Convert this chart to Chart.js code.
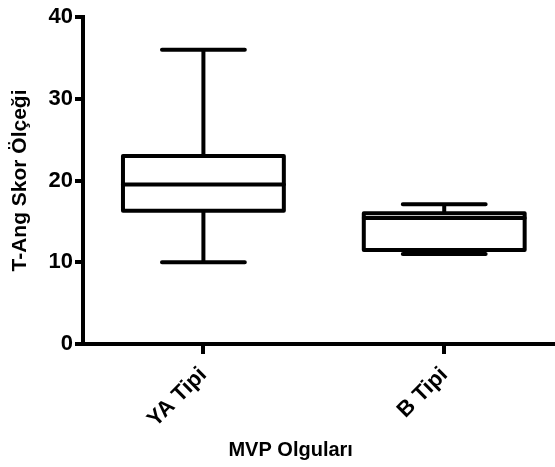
<!DOCTYPE html>
<html>
<head>
<meta charset="utf-8">
<script src="https://cdn.jsdelivr.net/npm/chart.js@4/dist/chart.umd.min.js"></script>
<style>
  html, body { margin: 0; padding: 0; background: #fff; }
  #wrap { width: 555px; height: 467px; }
</style>
</head>
<body>
<div id="wrap"><canvas id="c" width="555" height="467"></canvas></div>
<script>
const categories = ['YA Tipi', 'B Tipi'];
const mins    = [10, 11];
const q1s     = [16.3, 11.5];
const medians = [19.5, 15.4];
const q3s     = [23, 16];
const maxs    = [36, 17.1];
const yTicks  = [0, 10, 20, 30, 40];
const xTitle = 'MVP Olguları';
const yTitle = 'T-Ang Skor Ölçeği';

const FONT = "'Liberation Sans', Arial, sans-serif";

const boxPlugin = {
  id: 'boxPlot',
  afterDatasetsDraw(chart) {
    const ctx = chart.ctx;
    const xs = chart.scales.x, ys = chart.scales.y;
    const boxHalf = 0.334, capHalf = 0.172;
    ctx.save();
    ctx.strokeStyle = '#000';
    ctx.lineWidth = 4;
    ctx.lineCap = 'round';
    ctx.lineJoin = 'round';
    categories.forEach((c, i) => {
      const xv = i + 1;
      const xl = xs.getPixelForValue(xv - boxHalf);
      const xr = xs.getPixelForValue(xv + boxHalf);
      const xc = xs.getPixelForValue(xv);
      const cl = xs.getPixelForValue(xv - capHalf);
      const cr = xs.getPixelForValue(xv + capHalf);
      const yMin = ys.getPixelForValue(mins[i]);
      const yQ1 = ys.getPixelForValue(q1s[i]);
      const yMed = ys.getPixelForValue(medians[i]);
      const yQ3 = ys.getPixelForValue(q3s[i]);
      const yMax = ys.getPixelForValue(maxs[i]);
      ctx.beginPath();
      ctx.moveTo(xc, yQ3); ctx.lineTo(xc, yMax);
      ctx.moveTo(cl, yMax); ctx.lineTo(cr, yMax);
      ctx.moveTo(xc, yQ1); ctx.lineTo(xc, yMin);
      ctx.moveTo(cl, yMin); ctx.lineTo(cr, yMin);
      ctx.stroke();
      ctx.beginPath();
      ctx.rect(xl, yQ3, xr - xl, yQ1 - yQ3);
      ctx.fillStyle = '#fff';
      ctx.fill();
      ctx.stroke();
      ctx.beginPath();
      ctx.moveTo(xl, yMed); ctx.lineTo(xr, yMed);
      ctx.stroke();
    });
    ctx.restore();
  },
  afterDraw(chart) {
    // x-axis title, centred under the (cropped) axis as in the original
    const ctx = chart.ctx;
    const a = chart.chartArea;
    ctx.save();
    ctx.fillStyle = '#000';
    ctx.font = "bold 20px " + FONT;
    ctx.textAlign = 'center';
    ctx.textBaseline = 'middle';
    ctx.fillText(xTitle, a.left + (a.right - a.left) * 0.44, chart.height - 17);
    ctx.restore();
  }
};

new Chart(document.getElementById('c'), {
  type: 'scatter',
  data: {
    datasets: [{
      data: categories.map((c, i) => ({ x: i + 1, y: medians[i] })),
      pointRadius: 0,
      showLine: false
    }]
  },
  plugins: [boxPlugin],
  options: {
    responsive: false,
    animation: false,
    events: [],
    layout: { padding: { top: 17, right: 0, left: 0, bottom: 0 } },
    plugins: { legend: { display: false }, tooltip: { enabled: false } },
    scales: {
      x: {
        type: 'linear',
        min: 0.5,
        max: 2.46,
        afterBuildTicks(scale) { scale.ticks = categories.map((c, i) => ({ value: i + 1 })); },
        afterFit(scale) { scale.height = 123; },
        ticks: {
          autoSkip: false,
          minRotation: 45,
          maxRotation: 45,
          padding: 8,
          color: '#000',
          font: { family: FONT, size: 22, weight: 'bold' },
          callback: (v) => categories[v - 1]
        },
        grid: { display: true, drawOnChartArea: false, drawTicks: true, tickLength: 10, lineWidth: 4, color: '#000' },
        border: { display: true, width: 4, color: '#000' },
        title: { display: false }
      },
      y: {
        type: 'linear',
        min: 0,
        max: 40,
        afterBuildTicks(scale) { scale.ticks = yTicks.map(v => ({ value: v })); },
        afterFit(scale) { scale.width = 83; },
        ticks: {
          padding: 2,
          color: '#000',
          font: { family: FONT, size: 22, weight: 'bold' }
        },
        grid: { display: true, drawOnChartArea: false, drawTicks: true, tickLength: 8, lineWidth: 4, color: '#000' },
        border: { display: true, width: 4, color: '#000' },
        title: {
          display: true, text: yTitle, color: '#000',
          font: { family: FONT, size: 21, weight: 'bold' },
          padding: { top: 8, bottom: 0 }
        }
      }
    }
  }
});
</script>
</body>
</html>
